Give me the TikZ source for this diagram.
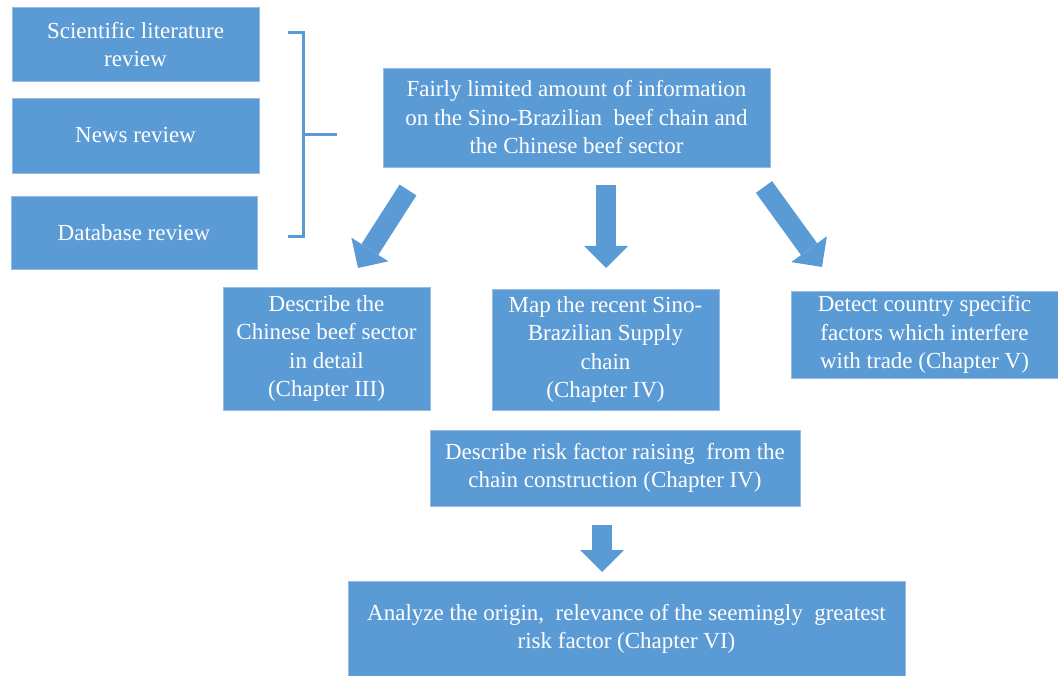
\documentclass[tikz,border=0pt]{standalone}
\usepackage{fontspec}
\setmainfont{Liberation Serif}
\usetikzlibrary{arrows.meta}
\definecolor{boxblue}{RGB}{91,155,213}
\definecolor{edgeblue}{RGB}{150,188,224}

\begin{document}
\begin{tikzpicture}[x=1pt,y=-1pt,
  box/.style={fill=boxblue, draw=edgeblue, line width=0.6pt, text=white,
    align=center, inner sep=0pt, font=\fontsize{23}{28.5}\selectfont},
  blockarrow/.style={draw=boxblue, line width=20pt,
    -{Triangle[length=22pt,width=44pt,line width=0pt,fill=boxblue]}},
  bracket/.style={draw=boxblue, line width=3pt}
]
\useasboundingbox (0,0) rectangle (1058,676);

% review sources
\node[box, minimum width=247pt, minimum height=74pt] (sci) at (135.5,44.5)
  {Scientific literature\\review};
\node[box, minimum width=247pt, minimum height=75pt] (news) at (135.5,135.5)
  {News review};
\node[box, minimum width=246pt, minimum height=73pt] (db) at (134,232.5)
  {Database review};

% bracket grouping the sources
\draw[bracket] (288,33) -- (303,33) -- (303,237) -- (288,237);
\draw[bracket] (303,135) -- (337,135);

% central problem statement
\node[box, minimum width=387pt, minimum height=99pt] (info) at (576.5,117.5)
  {Fairly limited amount of information\\on the Sino-Brazilian\ \ beef chain and\\the Chinese beef sector};

% research tasks
\node[box, minimum width=207pt, minimum height=123pt] (sector) at (326.5,348.5)
  {Describe the\\Chinese beef sector\\in detail\\(Chapter III)};
\node[box, minimum width=227pt, minimum height=121pt] (map) at (605.5,349.5)
  {Map the recent Sino-\\Brazilian Supply\\chain\\(Chapter IV)};
\node[box, minimum width=267pt, minimum height=87pt] (detect) at (924.5,334.5)
  {Detect country specific\\factors which interfere\\with trade (Chapter V)};
\node[box, minimum width=370pt, minimum height=76pt] (risk) at (615,468)
  {Describe risk factor raising\ \ from the\\chain construction (Chapter IV)};
\node[box, minimum width=557pt, minimum height=96pt] (origin) at (626.5,629)
  {Analyze the origin,\ \ relevance of the seemingly\ \ greatest\\risk factor (Chapter VI)};

% block arrows
\coordinate (lA) at (408,190);  \coordinate (lB) at (358,268);
\coordinate (mA) at (606,185);  \coordinate (mB) at (606,268);
\coordinate (rA) at (764,187);  \coordinate (rB) at (822,267);
\coordinate (bA) at (602,525);  \coordinate (bB) at (602,572);
\draw[blockarrow] (lA) -- (lB);
\draw[blockarrow] (mA) -- (mB);
\draw[blockarrow] (rA) -- (rB);
\draw[blockarrow] (bA) -- (bB);
\end{tikzpicture}
\end{document}
